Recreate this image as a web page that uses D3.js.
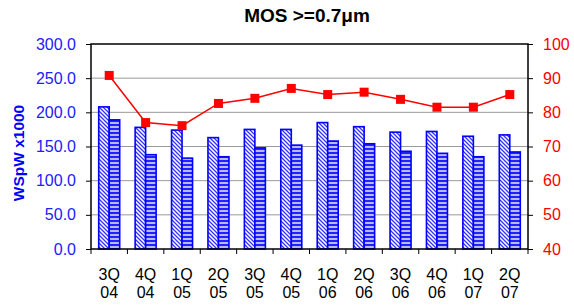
<!DOCTYPE html>
<html><head><meta charset="utf-8">
<script src="https://cdn.jsdelivr.net/npm/d3@7/dist/d3.min.js"></script>
<style>body{margin:0;background:#fff}svg{display:block;font-family:"Liberation Sans",Arial,sans-serif}</style>
</head><body><svg id="c" width="574" height="305"></svg>
<script>
const quarters = ["3Q","4Q","1Q","2Q","3Q","4Q","1Q","2Q","3Q","4Q","1Q","2Q"];
const years    = ["04","04","05","05","05","05","06","06","06","06","07","07"];
const seriesA  = [208,178,174,163,175,175,185,179,171,172,165,167];
const seriesB  = [189,138,133,135,148,152,158,154,143,140,135,142];
const lineVals = [90.8,77.0,76.1,82.6,84.1,87.0,85.2,85.9,83.8,81.5,81.5,85.2];
const leftTicks  = [0,50,100,150,200,250,300];
const rightTicks = [40,50,60,70,80,90,100];

const svg = d3.select("#c");
const m = {l:91, r:528, t:44, b:249};
const idx = d3.range(quarters.length);
const x = d3.scaleBand().domain(idx).range([m.l, m.r]);
const yL = d3.scaleLinear().domain([0,300]).range([m.b, m.t]);
const yR = d3.scaleLinear().domain([40,100]).range([m.b, m.t]);

const defs = svg.append("defs");
const pd = defs.append("pattern").attr("id","diag").attr("patternUnits","userSpaceOnUse")
  .attr("width",4).attr("height",4);
pd.append("rect").attr("width",4).attr("height",4).attr("fill","#fff");
pd.append("path").attr("d","M-1,-1 L5,5 M-1,3 L1,5 M3,-1 L5,1").attr("stroke","#3333ff").attr("stroke-width",1.3);
const ph = defs.append("pattern").attr("id","horiz").attr("patternUnits","userSpaceOnUse")
  .attr("width",4).attr("height",4);
ph.append("rect").attr("width",4).attr("height",4).attr("fill","#b8b8ff");
ph.append("rect").attr("y",0).attr("width",4).attr("height",2).attr("fill","#2222ff");

// gridlines
svg.append("g").selectAll("line").data(leftTicks.slice(1,-1)).join("line")
  .attr("x1",m.l).attr("x2",m.r).attr("y1",d=>yL(d)).attr("y2",d=>yL(d))
  .attr("stroke","#999").attr("stroke-width",1);

// bars
const bw = 10.5;
svg.append("g").selectAll("rect").data(idx).join("rect")
  .attr("x",i=>x(i)+x.bandwidth()/2-bw).attr("width",bw)
  .attr("y",i=>yL(seriesA[i])).attr("height",i=>yL(0)-yL(seriesA[i]))
  .attr("fill","url(#diag)").attr("stroke","#0000ff").attr("stroke-width",1.6);
svg.append("g").selectAll("rect").data(idx).join("rect")
  .attr("x",i=>x(i)+x.bandwidth()/2).attr("width",bw)
  .attr("y",i=>yL(seriesB[i])).attr("height",i=>yL(0)-yL(seriesB[i]))
  .attr("fill","url(#horiz)").attr("stroke","#0000ff").attr("stroke-width",1.6);

// frame
svg.append("rect").attr("x",m.l).attr("y",m.t).attr("width",m.r-m.l).attr("height",m.b-m.t)
  .attr("fill","none").attr("stroke","#000").attr("stroke-width",1.5);

// left axis
const gl = svg.append("g").attr("transform",`translate(${m.l},0)`)
  .call(d3.axisLeft(yL).tickValues(leftTicks).tickFormat(d3.format(".1f")).tickSize(5).tickPadding(10));
gl.select(".domain").remove();
gl.selectAll("line").attr("stroke","#000");
gl.selectAll("text").attr("fill","#2020ff").style("font-size","16px").attr("font-family","Liberation Sans, Arial");

// right axis
const gr = svg.append("g").attr("transform",`translate(${m.r},0)`)
  .call(d3.axisRight(yR).tickValues(rightTicks).tickSize(5).tickPadding(10));
gr.select(".domain").remove();
gr.selectAll("line").attr("stroke","#000");
gr.selectAll("text").attr("fill","#ff0000").style("font-size","16px").attr("font-family","Liberation Sans, Arial");

// bottom ticks at band boundaries
const bounds = idx.map(i=>x(i)).concat([m.r]);
svg.append("g").selectAll("line").data(bounds).join("line")
  .attr("x1",d=>d).attr("x2",d=>d).attr("y1",m.b).attr("y2",m.b+5).attr("stroke","#000");

// x labels
const xl = svg.append("g").attr("font-size","16px").attr("fill","#000").attr("text-anchor","middle");
xl.selectAll("text.q").data(idx).join("text").attr("class","q")
  .attr("x",i=>x(i)+x.bandwidth()/2).attr("y",280).text(i=>quarters[i]);
xl.selectAll("text.y").data(idx).join("text").attr("class","y")
  .attr("x",i=>x(i)+x.bandwidth()/2).attr("y",298).text(i=>years[i]);

// line
const line = d3.line().x(i=>x(i)+x.bandwidth()/2).y(i=>yR(lineVals[i]));
svg.append("path").datum(idx).attr("d",line).attr("fill","none").attr("stroke","#ff0000").attr("stroke-width",1.5);
svg.append("g").selectAll("rect").data(idx).join("rect")
  .attr("x",i=>x(i)+x.bandwidth()/2-4.5).attr("y",i=>yR(lineVals[i])-4.5)
  .attr("width",9).attr("height",9).attr("fill","#ff0000");

// title
svg.append("text").attr("x",307).attr("y",22).attr("text-anchor","middle")
  .attr("font-size","19px").attr("font-weight","bold").text("MOS >=0.7μm");

// left axis title
svg.append("text").attr("transform","translate(24,153) rotate(-90)").attr("text-anchor","middle")
  .attr("font-size","15.5px").attr("font-weight","bold").attr("fill","#0000ff").text("WSpW x1000");
</script></body></html>
